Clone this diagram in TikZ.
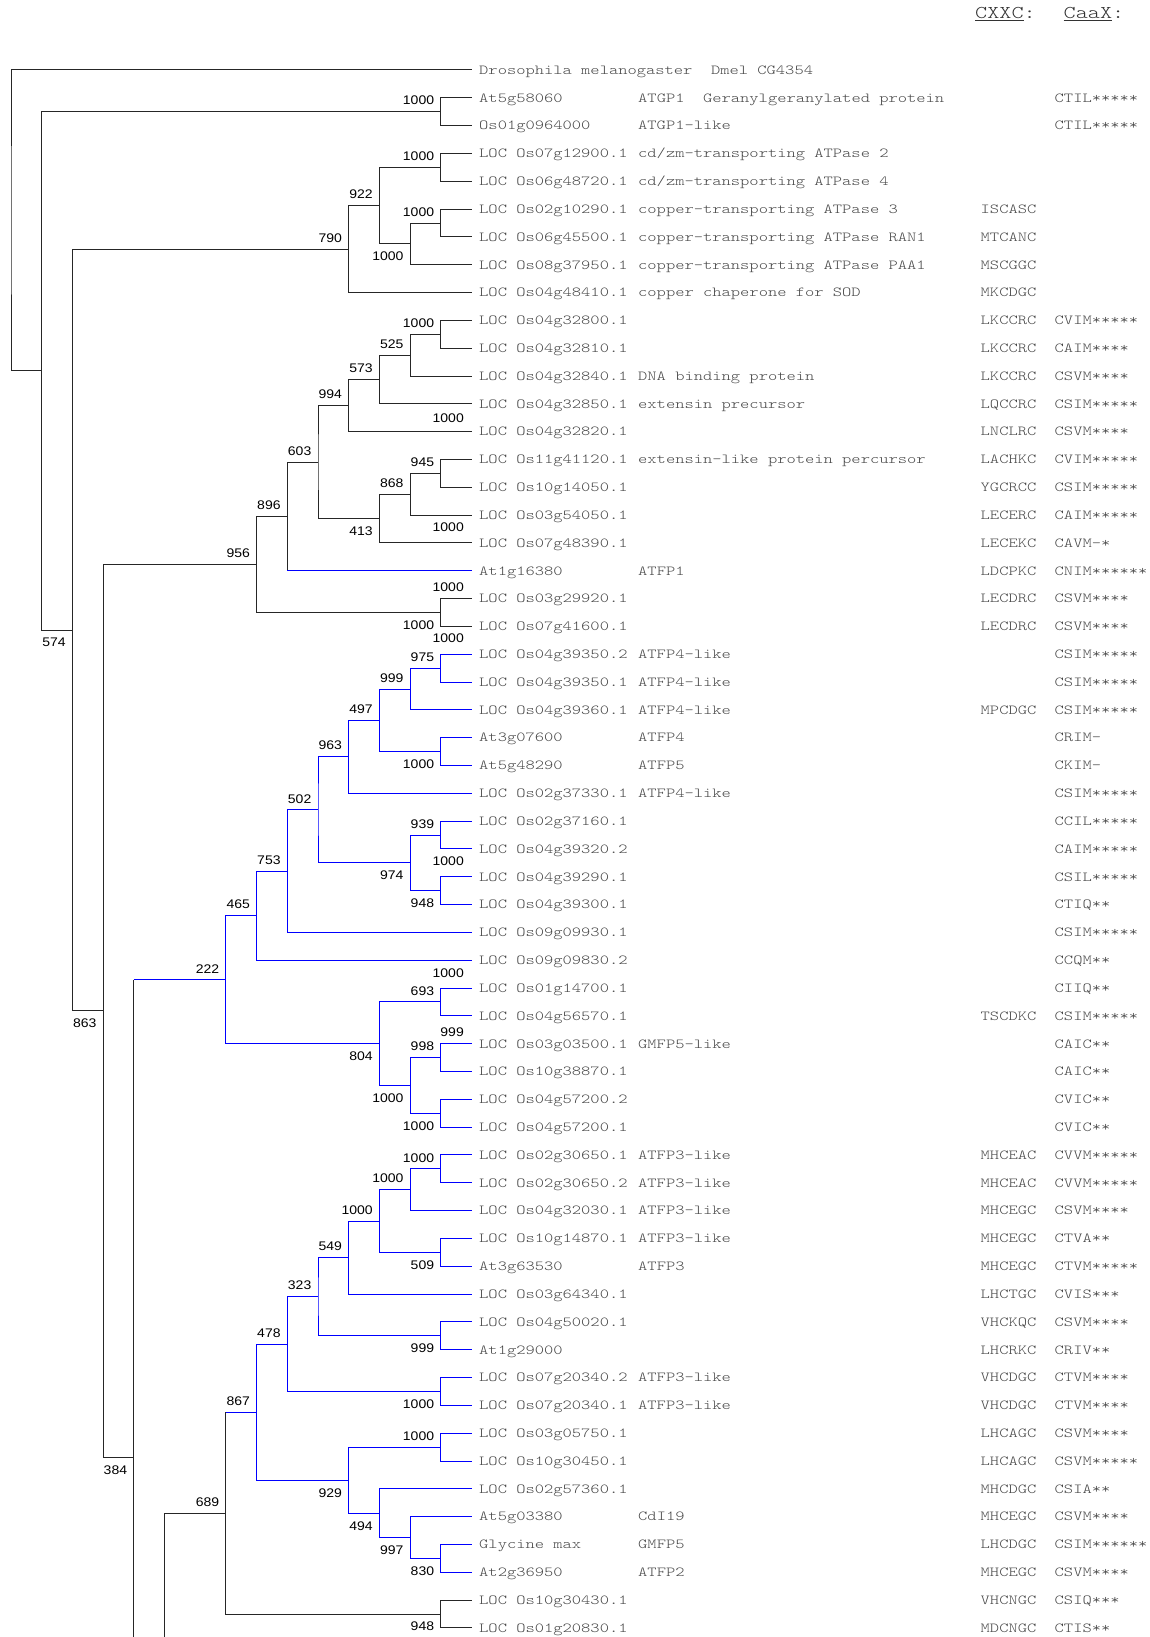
\documentclass[tikz,border=0pt]{standalone}
\usepackage{fontspec}
\newfontfamily\leaffont{lmmonolt10-regular}[Extension=.otf, FakeStretch=1.28]
\newfontfamily\bootfont{Liberation Sans}[FakeStretch=1.12]
% one row of the table: name, description, CXXC, CaaX
\newcommand{\cols}[4]{\makebox[159pt][l]{#1}\makebox[342.5pt][l]{#2}\makebox[74pt][l]{#3}#4}

\begin{document}
\begin{tikzpicture}[
    x=30.7pt, y=-27.82pt,
    tree/.style={draw=black!85, line width=1pt},
    bl/.style={draw=blue, line width=1pt},
    leaf/.style={anchor=base west, inner sep=0pt, xshift=7.5pt, yshift=-4.3pt, text=black!72,
      font={\leaffont\fontsize{13.8pt}{16pt}\selectfont}},
    head/.style={anchor=base west, inner sep=0pt, text=black!80,
      font={\leaffont\fontsize{18pt}{20pt}\selectfont}},
    boot/.style={inner sep=0pt, font={\bootfont\fontsize{12.5pt}{14pt}\selectfont}},
    bsa/.style={boot, anchor=south east, xshift=-6.5pt, yshift=6.5pt},
    bsb/.style={boot, anchor=north east, xshift=-6.5pt, yshift=-8pt},
    bst/.style={boot, anchor=south east, xshift=-7.5pt},
  ]
  \useasboundingbox (-11pt,70pt) rectangle (1138pt,-1567pt);

  % ---- tips and inner nodes (level, row) ----
  \foreach \i in {0,...,56}
    \coordinate (r\i) at (15,\i);
  \foreach \n/\x/\y in {root/0/5.41, nA/1/10.815, p1/14/1.5, n574/2/20.13,
      n790/11/6.4375, n922/12/4.875, p3/14/3.5, nF/13/6.25, p5/14/5.5,
      n863/3/33.82, n956/8/17.7734, n896/9/16.0469, n603/10/14.0938,
      n994/11/12.0625, n573/12/11.125, n525/13/10.25, p9/14/9.5,
      n413/12/16.125, n868/13/15.25, p14/14/14.5, p19/14/19.5,
      n384/4/49.867, nL5/5/67.03,
      n222/7/32.6992, n465/8/30.3984, n753/9/28.7969, n502/10/26.5938,
      n963/11/24.6875, n497/12/23.375, n999/13/22.25, p21/14/21.5, p24/14/24.5,
      n974/13/28.5, p27/14/27.5, p29/14/29.5, n804/12/35, p33/14/33.5,
      nZ/13/36.5, p35/14/35.5, p37/14/37.5,
      n689/7/51.8711, n867/8/48.2422, n478/9/45.7969, n323/10/44.0938,
      n549/11/42.6875, nAF/12/41.375, nAG/13/40.25, p39/14/39.5, p42/14/42.5,
      p45/14/45.5, p47/14/47.5, n929/11/50.6875, p49/14/49.5, n494/12/51.875,
      n997/13/52.75, p53/14/53.5, p55/14/55.5}
    \coordinate (\n) at (\x,\y);

  % ---- black branches ----
  \foreach \a/\p/\b in {r0/root/nA, p1/nA/n574, r1/p1/r2, n790/n574/n863,
      n922/n790/r8, p3/n922/nF, r3/p3/r4, p5/nF/r7, r5/p5/r6,
      n956/n863/n384, n896/n956/p19, n994/n603/n413, n573/n994/r13,
      n525/n573/r12, p9/n525/r11, r9/p9/r10, n868/n413/r17, p14/n868/r16,
      r14/p14/r15, r19/p19/r20, r55/p55/r56}
    \draw[tree] (\a) -| (\p) |- (\b);
  \draw[tree] (n603) -| (n896) -- (n896 |- r18);
  \draw[tree] (n384 |- n222) -- (n384 |- nL5) -- (nL5);
  \draw[tree] (n689) -| (nL5);
  \draw[tree] (n689 |- n867) -- (n689 |- p55) -- (p55);

  % ---- blue branches ----
  \draw[bl] (n896 |- r18) -- (r18);
  \draw[bl] (n384 |- n222) -- (n222);
  \draw[bl] (n689 |- n867) -- (n867);
  \foreach \a/\p/\b in {n465/n222/n804, n753/n465/r32, n502/n753/r31,
      n963/n502/n974, n497/n963/r26, n999/n497/p24, p21/n999/r23,
      r21/p21/r22, r24/p24/r25, p27/n974/p29, r27/p27/r28, r29/p29/r30,
      p33/n804/nZ, r33/p33/r34, p35/nZ/p37, r35/p35/r36, r37/p37/r38,
      n478/n867/n929, n323/n478/p47, n549/n323/p45, nAF/n549/r44,
      nAG/nAF/p42, p39/nAG/r41, r39/p39/r40, r42/p42/r43, r45/p45/r46,
      r47/p47/r48, p49/n929/n494, r49/p49/r50, r51/n494/n997,
      r52/n997/p53, r53/p53/r54}
    \draw[bl] (\a) -| (\p) |- (\b);

  % ---- bootstrap values ----
  \foreach \n/\v in {p1/1000, n790/790, n922/922, p3/1000, p5/1000,
      n956/956, n896/896, n603/603, n994/994, n573/573, n525/525, p9/1000,
      n868/868, p14/945, n222/222, n465/465, n753/753, n502/502, n963/963,
      n497/497, n999/999, p21/975, p27/939, p33/693, p35/998, n689/689,
      n867/867, n478/478, n323/323, n549/549, nAF/1000, nAG/1000,
      p39/1000, p49/1000}
    \node[bsa] (b\n) at (\n) {\v};
  \foreach \n/\v in {n574/574, nF/1000, n863/863, n413/413, p19/1000,
      n384/384, p24/1000, n974/974, p29/948, n804/804, nZ/1000, p37/1000,
      p42/509, p45/999, p47/1000, n929/929, n494/494, n997/997, p53/830,
      p55/948}
    \node[bsb] (b\n) at (\n) {\v};
  \foreach \i/\v/\d in {13/1000/8.5, 17/1000/11, 19/1000/7, 21/1000/11,
      29/1000/10.5, 33/1000/10.7, 35/999/7}
    \node[bst, yshift=\d pt] (t\i) at (r\i) {\v};

  % ---- header ----
  \node[head] (hcxxc) at (964pt,51pt) {\underline{CXXC}:};
  \node[head] (hcaax) at (1052.5pt,51pt) {\underline{CaaX}:};

  % ---- leaf rows ----
  \node[leaf] (l0) at (r0) {Drosophila melanogaster\ \ Dmel CG4354};
  \foreach \i/\nm/\ds/\cx/\ca in {
      1/At5g58060/{ATGP1\ \ Geranylgeranylated protein}//CTIL*****,
      2/Os01g0964000/ATGP1-like//CTIL*****,
      3/LOC Os07g12900.1/{cd/zm-transporting ATPase 2}//,
      4/LOC Os06g48720.1/{cd/zm-transporting ATPase 4}//,
      5/LOC Os02g10290.1/copper-transporting ATPase 3/ISCASC/,
      6/LOC Os06g45500.1/copper-transporting ATPase RAN1/MTCANC/,
      7/LOC Os08g37950.1/copper-transporting ATPase PAA1/MSCGGC/,
      8/LOC Os04g48410.1/copper chaperone for SOD/MKCDGC/,
      9/LOC Os04g32800.1//LKCCRC/CVIM*****,
      10/LOC Os04g32810.1//LKCCRC/CAIM****,
      11/LOC Os04g32840.1/DNA binding protein/LKCCRC/CSVM****,
      12/LOC Os04g32850.1/extensin precursor/LQCCRC/CSIM*****,
      13/LOC Os04g32820.1//LNCLRC/CSVM****,
      14/LOC Os11g41120.1/extensin-like protein percursor/LACHKC/CVIM*****,
      15/LOC Os10g14050.1//YGCRCC/CSIM*****,
      16/LOC Os03g54050.1//LECERC/CAIM*****,
      17/LOC Os07g48390.1//LECEKC/CAVM-*,
      18/At1g16380/ATFP1/LDCPKC/CNIM******,
      19/LOC Os03g29920.1//LECDRC/CSVM****,
      20/LOC Os07g41600.1//LECDRC/CSVM****,
      21/LOC Os04g39350.2/ATFP4-like//CSIM*****,
      22/LOC Os04g39350.1/ATFP4-like//CSIM*****,
      23/LOC Os04g39360.1/ATFP4-like/MPCDGC/CSIM*****,
      24/At3g07600/ATFP4//CRIM-,
      25/At5g48290/ATFP5//CKIM-,
      26/LOC Os02g37330.1/ATFP4-like//CSIM*****,
      27/LOC Os02g37160.1///CCIL*****,
      28/LOC Os04g39320.2///CAIM*****,
      29/LOC Os04g39290.1///CSIL*****,
      30/LOC Os04g39300.1///CTIQ**,
      31/LOC Os09g09930.1///CSIM*****,
      32/LOC Os09g09830.2///CCQM**,
      33/LOC Os01g14700.1///CIIQ**,
      34/LOC Os04g56570.1//TSCDKC/CSIM*****,
      35/LOC Os03g03500.1/GMFP5-like//CAIC**,
      36/LOC Os10g38870.1///CAIC**,
      37/LOC Os04g57200.2///CVIC**,
      38/LOC Os04g57200.1///CVIC**,
      39/LOC Os02g30650.1/ATFP3-like/MHCEAC/CVVM*****,
      40/LOC Os02g30650.2/ATFP3-like/MHCEAC/CVVM*****,
      41/LOC Os04g32030.1/ATFP3-like/MHCEGC/CSVM****,
      42/LOC Os10g14870.1/ATFP3-like/MHCEGC/CTVA**,
      43/At3g63530/ATFP3/MHCEGC/CTVM*****,
      44/LOC Os03g64340.1//LHCTGC/CVIS***,
      45/LOC Os04g50020.1//VHCKQC/CSVM****,
      46/At1g29000//LHCRKC/CRIV**,
      47/LOC Os07g20340.2/ATFP3-like/VHCDGC/CTVM****,
      48/LOC Os07g20340.1/ATFP3-like/VHCDGC/CTVM****,
      49/LOC Os03g05750.1//LHCAGC/CSVM****,
      50/LOC Os10g30450.1//LHCAGC/CSVM*****,
      51/LOC Os02g57360.1//MHCDGC/CSIA**,
      52/At5g03380/CdI19/MHCEGC/CSVM****,
      53/Glycine max/GMFP5/LHCDGC/CSIM******,
      54/At2g36950/ATFP2/MHCEGC/CSVM****,
      55/LOC Os10g30430.1//VHCNGC/CSIQ***,
      56/LOC Os01g20830.1//MDCNGC/CTIS**}
    \node[leaf] (l\i) at (r\i) {\cols{\nm}{\ds}{\cx}{\ca}};
\end{tikzpicture}
\end{document}
